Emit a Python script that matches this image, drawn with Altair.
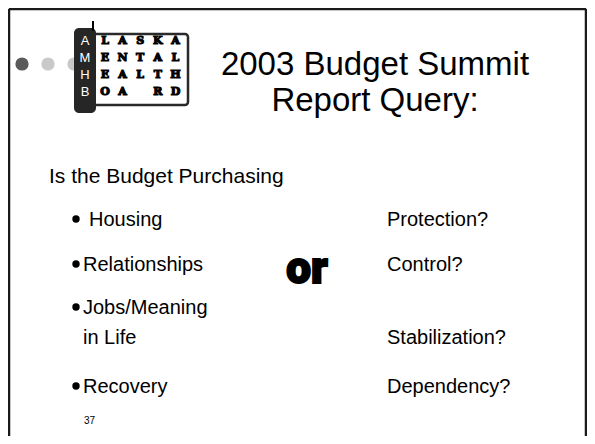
import altair as alt
import pandas as pd

# ---- slide content ----
title_lines = ["2003 Budget Summit", "Report Query:"]
question = ["Is the Budget Purchasing"]
needs = ["Housing", "Relationships", "Jobs/Meaning", "in Life", "Recovery"]
outcomes = ["Protection?", "Control?", "Stabilization?", "Dependency?"]
connector = ["or"]
logo_initials = ["A", "M", "H", "B"]
logo_rows = ["LASKA", "ENTAL", "EALTH", "OA RD"]
page_number = ["37"]

# ---- layout (page pixel coordinates) ----
W, H = 579, 428
title_pos = [(375, 75), (375, 111)]
question_pos = [(49, 183)]
needs_pos = [(89, 226), (83, 271), (83, 314), (83, 344), (83, 393)]
bullet_pos = [(76, 219), (76, 264), (76, 307), (76, 386)]
outcomes_pos = [(387, 226), (387, 271), (387, 344), (387, 393)]
connector_pos = [(307, 283)]
page_pos = [(84, 424)]
dots_pos = [(22, 64), (48, 64), (74, 64)]
dots_col = ["#5a5a5a", "#c9c9c9", "#c9c9c9"]
row_y = [41, 58, 75, 92]


def X(f="x"):
    return alt.X(f"{f}:Q", scale=alt.Scale(domain=[8, 8 + W]), axis=None)


def Y(f="y"):
    return alt.Y(f"{f}:Q", scale=alt.Scale(domain=[8, 8 + H], reverse=True), axis=None)


def text_layer(texts, pos, **style):
    df = pd.DataFrame({"t": texts, "x": [p[0] for p in pos], "y": [p[1] for p in pos]})
    return alt.Chart(df).mark_text(**style).encode(x=X(), y=Y(), text="t:N")


layers = []

# frame
frame = pd.DataFrame({"x": [9, 9, 586], "y": [9, 9, 9], "x2": [9, 586, 586], "y2": [436, 9, 436]})
layers.append(alt.Chart(frame).mark_rule(color="#1a1a1a", strokeWidth=2.5).encode(
    x=X(), y=Y(), x2="x2:Q", y2="y2:Q"))

# dots
dots = pd.DataFrame({"x": [p[0] for p in dots_pos], "y": [p[1] for p in dots_pos], "c": dots_col})
layers.append(alt.Chart(dots).mark_circle(size=175, opacity=1).encode(
    x=X(), y=Y(), color=alt.Color("c:N", scale=None)))

# logo box
box = pd.DataFrame({"x": [93], "x2": [188], "y": [34], "y2": [105]})
layers.append(alt.Chart(box).mark_rect(fill="white", stroke="#2a2a2a", strokeWidth=2.5,
                                       cornerRadius=3).encode(x=X(), x2="x2:Q", y=Y(), y2="y2:Q"))
col = pd.DataFrame({"x": [74], "x2": [96], "y": [28], "y2": [113]})
layers.append(alt.Chart(col).mark_rect(fill="#262626", cornerRadius=5).encode(
    x=X(), x2="x2:Q", y=Y(), y2="y2:Q"))
tick = pd.DataFrame({"x": [93], "y": [21], "y2": [31]})
layers.append(alt.Chart(tick).mark_rule(color="black", strokeWidth=2).encode(x=X(), y=Y(), y2="y2:Q"))

layers.append(text_layer(logo_initials, [(85, y) for y in row_y], font="Liberation Sans",
                         fontSize=13, color="white", align="center", baseline="middle"))
grid_t, grid_p = [], []
for i, row in enumerate(logo_rows):
    for j, ch in enumerate(row):
        if ch != " ":
            grid_t.append(ch)
            grid_p.append((105 + j * 17.6, row_y[i]))
layers.append(text_layer(grid_t, grid_p, font="DejaVu Serif", fontWeight=900, fontSize=11,
                         color="black", stroke="black", strokeWidth=1.1,
                         align="center", baseline="middle"))

# title
layers.append(text_layer(title_lines, title_pos, font="Liberation Sans", fontSize=33,
                         color="black", align="center", baseline="alphabetic"))
# question
layers.append(text_layer(question, question_pos, font="Liberation Sans", fontSize=21,
                         color="black", align="left", baseline="alphabetic"))
# bullets
bul = pd.DataFrame({"x": [p[0] for p in bullet_pos], "y": [p[1] for p in bullet_pos]})
layers.append(alt.Chart(bul).mark_circle(size=55, color="black", opacity=1).encode(x=X(), y=Y()))
layers.append(text_layer(needs, needs_pos, font="Liberation Sans", fontSize=20,
                         color="black", align="left", baseline="alphabetic"))
layers.append(text_layer(outcomes, outcomes_pos, font="Liberation Sans", fontSize=20,
                         color="black", align="left", baseline="alphabetic"))
layers.append(text_layer(connector, connector_pos, font="Roboto", fontWeight=900, fontSize=44,
                         color="black", stroke="black", strokeWidth=2,
                         align="center", baseline="alphabetic"))
layers.append(text_layer(page_number, page_pos, font="Liberation Sans", fontSize=10,
                         color="black", align="left", baseline="alphabetic"))

chart = alt.layer(*layers).properties(
    width=W, height=H, padding=0, autosize=alt.AutoSizeParams(type="none")
).configure_view(stroke=None).configure(background="white")

chart.save("out.html", embed_options={"renderer": "svg", "actions": False})
